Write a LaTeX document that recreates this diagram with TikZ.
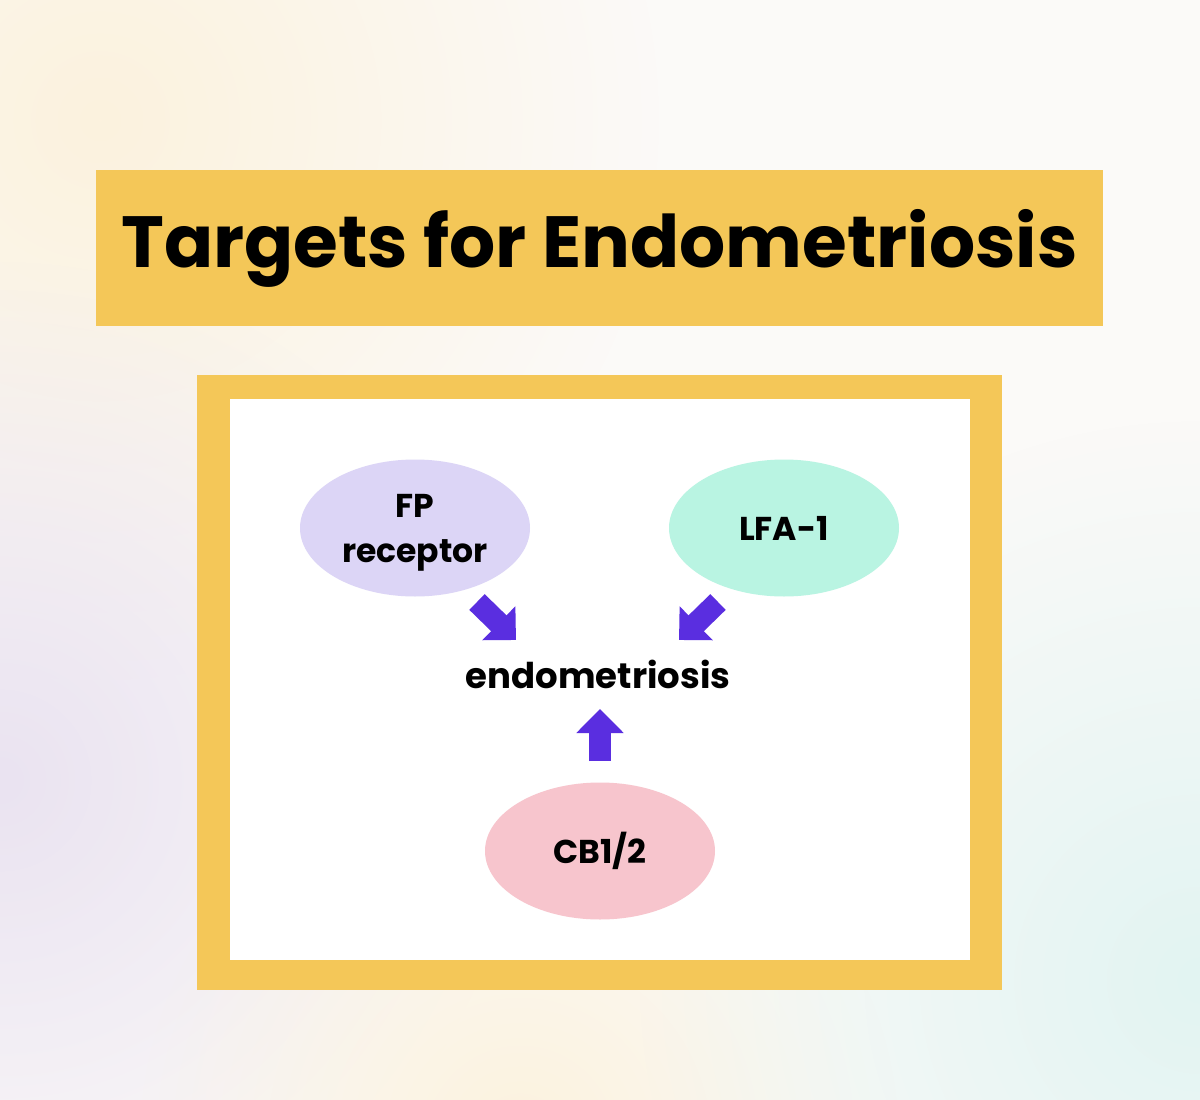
\documentclass[tikz,border=0pt]{standalone}
\usepackage{fontspec}
\setmainfont{Poppins}
\usetikzlibrary{arrows.meta, shapes.geometric, positioning, fadings}

\definecolor{bgbase}{HTML}{FBFAF8}
\definecolor{bgwarm}{HTML}{FCF2DE}
\definecolor{bglilac}{HTML}{EAE3F1}
\definecolor{bgmint}{HTML}{E2F4F2}
\definecolor{banner}{HTML}{F4C758}
\definecolor{fplilac}{HTML}{DCD5F6}
\definecolor{lfamint}{HTML}{B9F4E2}
\definecolor{cbpink}{HTML}{F7C5CD}
\definecolor{pushcol}{HTML}{5A2EE0}

\tikzfading[name=softdot, inner color=transparent!0, outer color=transparent!100]

\begin{document}
\begin{tikzpicture}[x=1pt, y=-1pt,
    blob/.style={ellipse, minimum width=230pt, minimum height=137pt, inner sep=0pt,
      align=center, font=\bfseries\fontsize{33}{45}\selectfont},
    push/.style={draw=pushcol, line width=22pt, -{Triangle[width=46pt, length=24pt]}},
    haze/.style={path fading=softdot}]

  \useasboundingbox (0,0) rectangle (1200,1100);

  % soft background
  \fill[bgbase] (0,0) rectangle (1200,1100);
  \begin{scope}
    \clip (0,0) rectangle (1200,1100);
    \fill[bgwarm, haze] (100,120) circle (560);
    \fill[bglilac, haze] (0,780) circle (520);
    \fill[bgwarm, haze] (520,1140) circle (380);
    \fill[bgmint, haze] (1200,980) circle (560);
  \end{scope}

  % title
  \node[fill=banner, minimum width=1007pt, minimum height=156pt, inner sep=0pt,
    font=\bfseries\fontsize{72.5}{80}\selectfont] (title) at (599.5,248) {Targets for Endometriosis};

  % frame
  \fill[banner] (197,375) rectangle (1002,990);
  \fill[white] (230,399) rectangle (970,960);

  \node[blob, fill=fplilac, text depth=0pt] (fp) at (415,528) {FP\\receptor};
  \node[blob, fill=lfamint] (lfa) at (784,528) {LFA-1};
  \node[blob, fill=cbpink] (cb) at (600,851) {CB1/2};
  \node[font=\bfseries\fontsize{35.5}{40}\selectfont] (endo) at (598,674) {endometriosis};

  \coordinate (fp-out) at (477,602);
  \coordinate (fp-in) at (516,640);
  \coordinate (lfa-out) at (718,602);
  \coordinate (lfa-in) at (679,640);
  \coordinate (cb-out) at (600,761);
  \coordinate (cb-in) at (600,709);

  \draw[push] (fp-out) -- (fp-in);
  \draw[push] (lfa-out) -- (lfa-in);
  \draw[push] (cb-out) -- (cb-in);
\end{tikzpicture}
\end{document}
